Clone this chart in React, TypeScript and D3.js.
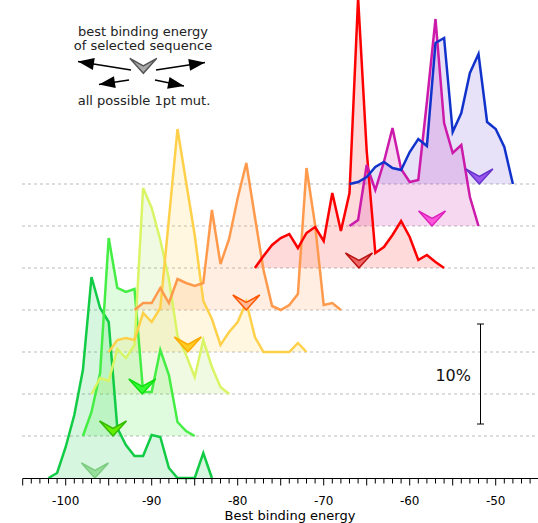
import React from "react";
import * as d3 from "d3";

const W = 538;
const H = 523;

// percent of mutants per 1-unit energy bin, one array per sequence (front to back)
const darkGreenPct = [0, 0.5, 3.1, 6.3, 10.8, 20.1, 17.0, 15.6, 5.0, 3.3, 2.2, 2.2, 4.3, 4.1, 1.0, 0, 0, 0, 2.5, 0];
const greenPct = [0, 2.4, 6.3, 19.8, 14.8, 14.4, 14.7, 4.4, 4.4, 8.6, 6.1, 1.4, 0.5, 0];
const limePct = [0, 1.6, 1.3, 4.5, 3.6, 4.9, 20.6, 18.6, 15.4, 11.5, 5.8, 3.9, 1.7, 5.4, 2.7, 0.7, 0];
const yellowPct = [0, 1.2, 1.4, 1.2, 3.9, 3.0, 4.4, 13.3, 22.3, 17.0, 11.7, 5.1, 3.3, 0.7, 2.0, 3.0, 5.0, 1.5, 0, 0, 0, 0, 0.9, 0];
const orangePct = [0, 0.7, 0.7, 2.2, 0.7, 3.1, 2.7, 2.4, 2.7, 10.0, 4.6, 7.1, 11.2, 14.7, 9.3, 4.0, 0.4, 0, 0.5, 1.6, 14.2, 8.5, 0.5, 0.7, 0];
const redPct = [0, 1.2, 2.3, 3.0, 3.4, 2.0, 3.5, 4.1, 2.7, 7.5, 3.7, 7.5, 27.0, 11.7, 1.5, 2.1, 3.3, 4.7, 3.1, 0.8, 1.3, 0.6, 0];
const magentaPct = [0, 0.6, 6.1, 3.6, 6.4, 9.8, 5.7, 4.4, 4.6, 12.4, 20.7, 10.3, 7.3, 8.1, 2.9, 0];
const bluePct = [0, 0.2, 0.7, 1.7, 2.2, 1.6, 1.4, 3.2, 4.5, 3.8, 14.1, 14.6, 5.2, 7.1, 11.1, 13.0, 6.2, 5.5, 3.7, 0];

// first energy bin of each histogram
const firstBin = [-102, -98, -97, -95, -92, -78, -67, -67];
// best binding energy of the selected sequence
const bestEnergy = [-96.6, -94.5, -91.1, -85.8, -79.0, -65.9, -57.4, -51.9];

const lineColors = ["#11cc44", "#44ee44", "#d9f566", "#ffd04a", "#ff9a4d", "#ff0000", "#cc1aaa", "#1133cc"];
const fillColors = ["#11cc44", "#44ee44", "#a8e055", "#ffd04a", "#ff9a4d", "#ff2222", "#cc1aaa", "#7755dd"];
const markerFill = ["#66cc66", "#66ee00", "#33ff33", "#ffcc22", "#ffbb99", "#ee6666", "#ff55dd", "#9955ee"];
const markerStroke = ["#33aa33", "#33bb00", "#11dd11", "#ffaa00", "#ff5500", "#bb1111", "#dd22bb", "#6633cc"];

const tickLabels = [-100, -90, -80, -70, -60, -50];

const series = [darkGreenPct, greenPct, limePct, yellowPct, orangePct, redPct, magentaPct, bluePct].map((pct, i) =>
  pct.map((p, j) => ({ e: firstBin[i] + j, p }))
);

// legend arrows: from the grey marker out to the mutants
const legendArrows = [
  [131, 70, 78, 61.5],
  [129, 80, 99, 84.5],
  [156, 70, 205, 62.5],
  [155, 80, 184, 86],
];

const x = d3.scaleLinear().domain([-105, -45]).range([22.7, 538.7]);
const h = d3.scaleLinear().domain([0, 10]).range([0, 100]);
const base = d3.scaleLinear().domain([0, 7]).range([478, 184]);
const axisY = 478.5;

function chevron(cx: number, cy: number) {
  return `M${cx},${cy} L${cx - 13.5},${cy - 15} L${cx},${cy - 7.5} L${cx + 13.5},${cy - 15} Z`;
}

function arrowHead(x1: number, y1: number, x2: number, y2: number) {
  const a = Math.atan2(y2 - y1, x2 - x1);
  const len = 16, hw = 6;
  const bx = x2 - len * Math.cos(a), by = y2 - len * Math.sin(a);
  const nx = -Math.sin(a) * hw, ny = Math.cos(a) * hw;
  return `M${x2},${y2} L${bx + nx},${by + ny} L${bx - nx},${by - ny} Z`;
}

export default function App() {
  const font = "'DejaVu Sans', Verdana, sans-serif";
  const minor = d3.range(-105, -44, 1);

  return (
    <div style={{ position: "absolute", left: 0, top: 0 }}>
      <svg width={W} height={H} style={{ display: "block", fontFamily: font }}>
        {/* baselines */}
        {d3.range(1, 8).map((i) => (
          <line key={i} x1={22} x2={W} y1={base(i)} y2={base(i)} stroke="#bbb" strokeWidth={1} strokeDasharray="3,3" />
        ))}

        {/* areas */}
        {series.map((s, i) => {
          const b = base(i);
          const area = d3.area<{ e: number; p: number }>().x((d) => x(d.e)).y0(b).y1((d) => b - h(d.p));
          return <path key={"a" + i} d={area(s) || ""} fill={fillColors[i]} fillOpacity={0.17} />;
        })}

        {/* lines */}
        {series.map((s, i) => {
          const b = base(i);
          const line = d3.line<{ e: number; p: number }>().x((d) => x(d.e)).y((d) => b - h(d.p));
          return (
            <path key={"l" + i} d={line(s) || ""} fill="none" stroke={lineColors[i]} strokeWidth={2.5} strokeLinejoin="miter" />
          );
        })}

        {/* best binding energy markers */}
        {bestEnergy.map((e, i) => (
          <path
            key={"m" + i}
            d={chevron(x(e), base(i))}
            fill={markerFill[i]}
            stroke={markerStroke[i]}
            strokeWidth={1.5}
            opacity={i === 0 ? 0.55 : 1}
          />
        ))}

        {/* x axis */}
        <line x1={x(-105)} x2={W} y1={axisY} y2={axisY} stroke="#000" strokeWidth={1} />
        {minor.map((v) => (
          <line key={v} x1={x(v)} x2={x(v)} y1={axisY} y2={axisY + (v % 5 === 0 ? 7 : 5)} stroke="#000" strokeWidth={1} />
        ))}
        {tickLabels.map((v) => (
          <text key={v} x={x(v)} y={504.5} textAnchor="middle" fontSize={12} fill="#000">
            {v}
          </text>
        ))}
        <text x={290} y={519.5} textAnchor="middle" fontSize={13} fill="#000">
          Best binding energy
        </text>

        {/* 10% scale bar */}
        <g stroke="#000" strokeWidth={1}>
          <line x1={480.5} x2={480.5} y1={324} y2={324 + h(10)} />
          <line x1={477} x2={484} y1={324} y2={324} />
          <line x1={477} x2={484} y1={324 + h(10)} y2={324 + h(10)} />
        </g>
        <text x={471} y={380.5} textAnchor="end" fontSize={16} fill="#111">
          10%
        </text>

        {/* legend */}
        <text x={143} y={35.5} textAnchor="middle" fontSize={13} fill="#222">
          best binding energy
        </text>
        <text x={143} y={49.5} textAnchor="middle" fontSize={13} fill="#222">
          of selected sequence
        </text>
        {legendArrows.map(([x1, y1, x2, y2], k) => (
          <g key={k}>
            <line x1={x1} y1={y1} x2={x2} y2={y2} stroke="#000" strokeWidth={1.5} />
            <path d={arrowHead(x1, y1, x2, y2)} fill="#000" />
          </g>
        ))}
        <path d={chevron(143.3, 73.3)} fill="#aaa" stroke="#555" strokeWidth={1.5} />
        <text x={144} y={104.5} textAnchor="middle" fontSize={13} fill="#222">
          all possible 1pt mut.
        </text>
      </svg>
    </div>
  );
}
